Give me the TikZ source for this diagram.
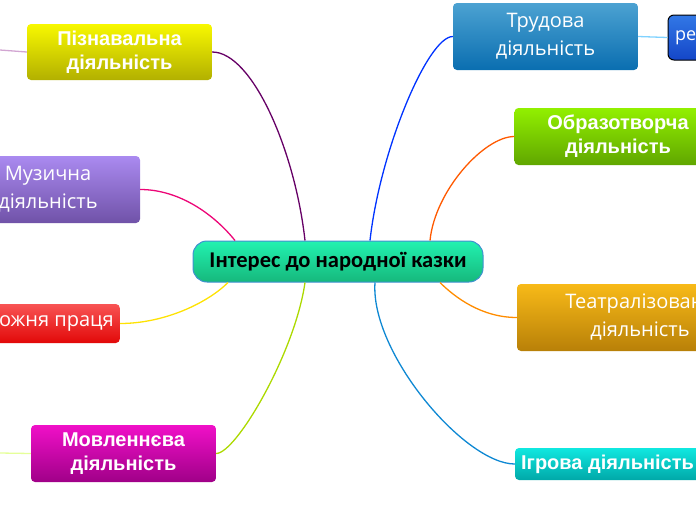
\documentclass[tikz,border=0pt]{standalone}
\usepackage{fontspec}
\newfontfamily\arialfont{Liberation Sans}
\newfontfamily\opensansfont{Open Sans}
\newfontfamily\carlitofont{Carlito}

\definecolor{centraltop}{RGB}{34,242,176}
\definecolor{centralbot}{RGB}{22,184,124}
\definecolor{centralrim}{RGB}{64,144,208}
\definecolor{piznTop}{RGB}{248,248,0}
\definecolor{piznBot}{RGB}{178,176,0}
\definecolor{muzTop}{RGB}{170,138,240}
\definecolor{muzBot}{RGB}{112,82,168}
\definecolor{praciaTop}{RGB}{248,84,84}
\definecolor{praciaBot}{RGB}{226,8,8}
\definecolor{movlTop}{RGB}{240,16,200}
\definecolor{movlBot}{RGB}{160,0,136}
\definecolor{trudTop}{RGB}{76,162,210}
\definecolor{trudBot}{RGB}{10,110,176}
\definecolor{reTop}{RGB}{50,120,230}
\definecolor{reBot}{RGB}{20,70,200}
\definecolor{obrazTop}{RGB}{146,240,0}
\definecolor{obrazBot}{RGB}{96,166,0}
\definecolor{teatrTop}{RGB}{248,186,24}
\definecolor{teatrBot}{RGB}{184,128,8}
\definecolor{igrTop}{RGB}{16,232,224}
\definecolor{igrBot}{RGB}{0,168,168}

\begin{document}
\begin{tikzpicture}[x=1pt, y=-1pt,
  topic/.style={rounded corners=4pt, text=white, align=center, inner sep=0pt},
  boldtopic/.style={topic, font=\arialfont\bfseries\fontsize{20}{24}\selectfont},
  thintopic/.style={topic, font=\opensansfont\fontsize{20}{28}\selectfont},
  link/.style={line width=1.3pt}]
  \useasboundingbox (0,0) rectangle (696,520);
  \clip (0,0) rectangle (696,520);

  % central topic
  \node[draw=centralrim, line width=1pt, rounded corners=14pt,
        top color=centraltop, bottom color=centralbot,
        minimum width=290pt, minimum height=41pt, inner sep=0pt,
        font=\carlitofont\bfseries\fontsize{22.5}{24}\selectfont]
        (central) at (338,261.5) {Інтерес до народної казки};

  % left side
  \node[boldtopic, top color=piznTop, bottom color=piznBot,
        minimum width=185pt, minimum height=56pt]
        (pizn) at (119.5,52) {Пізнавальна\\діяльність};
  \node[thintopic, top color=muzTop, bottom color=muzBot,
        minimum width=184pt, minimum height=67pt]
        (muz) at (48,189.5) {Музична\\діяльність};
  \node[topic, top color=praciaTop, bottom color=praciaBot,
        font=\opensansfont\fontsize{20}{24}\selectfont,
        minimum height=39pt, inner xsep=6pt, anchor=east]
        (pracia) at (120,323.5) {ожня праця};
  \node[boldtopic, top color=movlTop, bottom color=movlBot,
        minimum width=185pt, minimum height=57pt]
        (movl) at (123.5,453.5) {Мовленнєва\\діяльність};

  % right side
  \node[thintopic, top color=trudTop, bottom color=trudBot,
        minimum width=185pt, minimum height=67pt]
        (trud) at (545.5,36.5) {Трудова\\діяльність};
  \node[draw=black, line width=1pt, rounded corners=6pt,
        top color=reTop, bottom color=reBot,
        minimum width=72pt, minimum height=45pt, text=white,
        font=\opensansfont\fontsize{18}{20}\selectfont, text width=58pt]
        (re) at (704,37.5) {ре};
  \node[boldtopic, top color=obrazTop, bottom color=obrazBot,
        minimum width=207pt, minimum height=57pt]
        (obraz) at (618,136.5) {Образотворча\\діяльність};
  \node[thintopic, top color=teatrTop, bottom color=teatrBot,
        minimum width=246pt, minimum height=67pt]
        (teatr) at (640,317.5) {Театралізована\\діяльність};
  \node[boldtopic, top color=igrTop, bottom color=igrBot,
        minimum width=185pt, minimum height=32pt]
        (igr) at (607.5,464) {Ігрова діяльність};

  % loose ends
  \coordinate (piznend) at (0,50);
  \coordinate (movlend) at (0,453);

  % connectors
  \draw[link, violet!80!black] (pizn.east) .. controls +(40,0) and +(-10,-90) .. ([xshift=-33pt]central.north);
  \draw[link, magenta!80!red] (muz.east) .. controls +(40,0) and +(-20,-25) .. ([xshift=-103pt]central.north);
  \draw[link, yellow!85!orange] (pracia.east) .. controls +(45,0) and +(-20,20) .. ([xshift=-110pt]central.south);
  \draw[link, lime!70!olive] (movl.east) .. controls +(20,0) and +(-10,70) .. ([xshift=-33pt]central.south);
  \draw[link, blue!80!cyan] (trud.west) .. controls +(-25,0) and +(10,-90) .. ([xshift=32pt]central.north);
  \draw[link, orange!70!red] (obraz.west) .. controls +(-30,0) and +(5,-50) .. ([xshift=92pt]central.north);
  \draw[link, orange!90!yellow] (teatr.west) .. controls +(-35,0) and +(15,15) .. ([xshift=102pt]central.south);
  \draw[link, cyan!70!blue] (igr.west) .. controls +(-50,0) and +(-5,70) .. ([xshift=37pt]central.south);

  \draw[link, violet!35!white] (pizn.west) -- (piznend);
  \draw[link, lime!40!white] (movl.west) -- (movlend);
  \draw[link, blue!35!cyan!50!white] (trud.east) -- (re.west);
\end{tikzpicture}
\end{document}
